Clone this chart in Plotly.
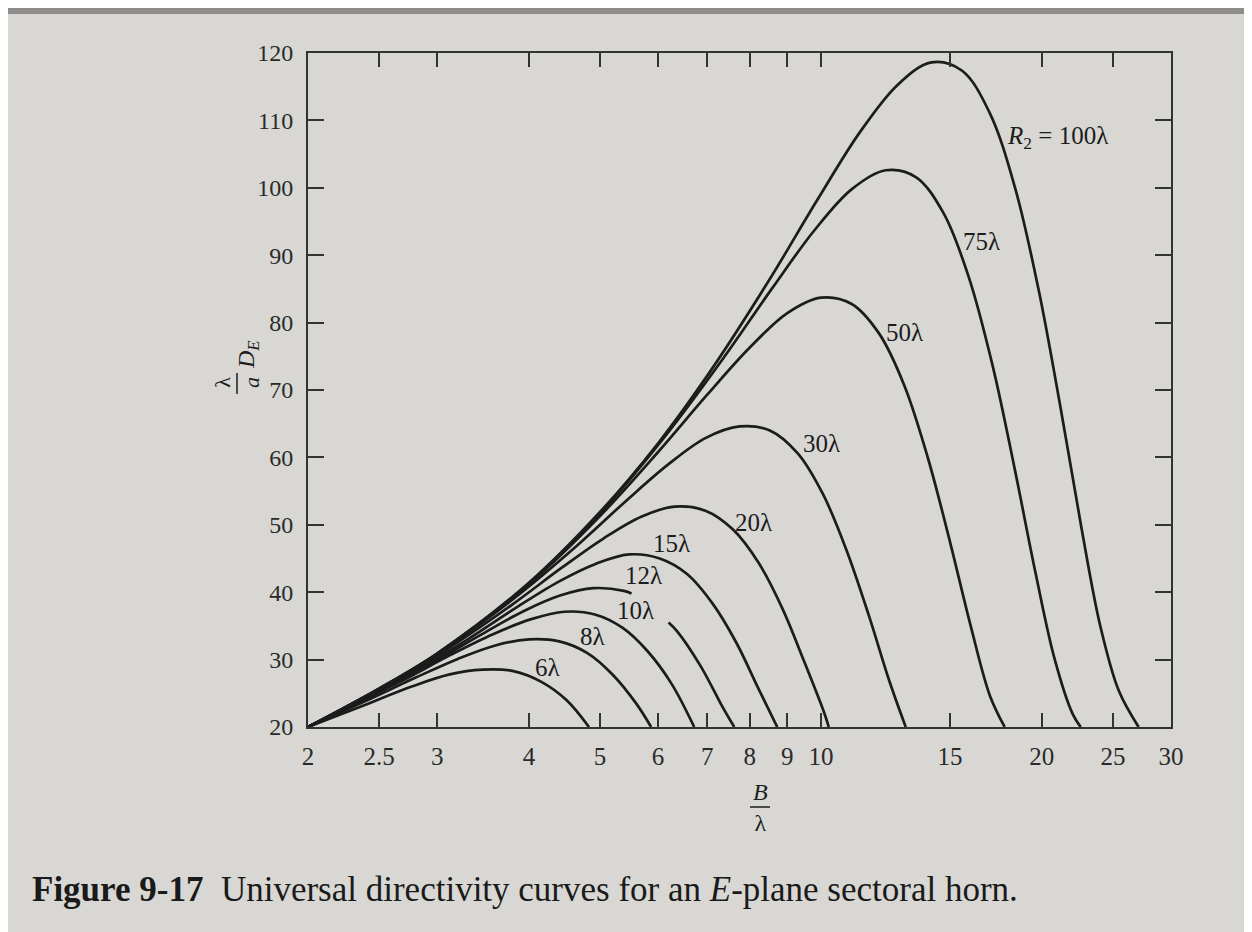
import math
import plotly.graph_objects as go

# ---- data (B/lambda, (lambda/a) D_E) ----
R6_B = [2.0, 2.42, 2.77, 3.12, 3.46, 3.81, 4.16, 4.50, 4.83]
R6_D = [20.0, 23.5, 26.0, 27.8, 28.5, 28.3, 26.7, 24.0, 20.0]

R8_B = [2.0, 2.4, 2.8, 3.2, 3.6, 4.0, 4.4, 4.8, 5.2, 5.6, 5.87]
R8_D = [20.0, 23.9, 27.3, 30.1, 32.1, 33.0, 32.7, 31.0, 27.8, 23.5, 20.0]

R10_B = [2.0, 2.24, 2.68, 3.13, 3.58, 4.03, 4.47, 4.92, 5.37, 5.81, 6.26, 6.72]
R10_D = [20.0, 22.6, 26.8, 30.7, 33.8, 36.0, 37.1, 36.7, 34.7, 31.2, 26.4, 20.0]

R12_B = [2.0, 2.45, 2.94, 3.43, 3.92, 4.41, 4.90, 5.39, 5.52, None, 6.20, 6.37, 6.86, 7.35, 7.62]
R12_D = [20.0, 24.8, 29.4, 33.6, 37.1, 39.5, 40.6, 40.2, 39.8, None, 35.5, 34.2, 29.0, 22.9, 20.0]

R15_B = [2.0, 2.5, 2.74, 3.29, 3.83, 4.38, 4.93, 5.48, 6.03, 6.57, 7.12, 7.67, 8.22, 8.72]
R15_D = [20.0, 25.4, 27.8, 32.9, 37.6, 41.5, 44.2, 45.6, 45.0, 42.7, 38.3, 32.5, 25.7, 20.0]

R20_B = [2.0, 2.5, 3.16, 3.80, 4.43, 5.06, 5.69, 6.32, 6.96, 7.59, 8.22, 8.86, 9.49, 10.12, 10.25]
R20_D = [20.0, 25.5, 32.2, 38.2, 43.6, 48.0, 51.2, 52.7, 52.1, 49.3, 44.4, 37.6, 29.7, 21.9, 20.0]

R30_B = [2.0, 2.5, 3.0, 3.87, 4.65, 5.42, 6.20, 6.97, 7.75, 8.52, 9.30, 10.07, 10.84, 11.62, 12.39, 13.05]
R30_D = [20.0, 25.6, 30.8, 39.6, 46.9, 53.5, 59.0, 62.9, 64.6, 64.0, 60.6, 54.5, 46.2, 36.6, 26.9, 20.0]

R50_B = [2.0, 2.5, 3.0, 4.0, 5.0, 6.0, 7.0, 8.0, 9.0, 10.0, 11.0, 12.0, 13.0, 14.0, 15.0, 16.0, 17.0, 17.8]
R50_D = [20.0, 25.7, 30.9, 41.2, 51.3, 60.8, 69.3, 76.3, 81.4, 83.7, 82.8, 78.4, 70.6, 59.8, 47.4, 35.0, 24.6, 20.0]

R75_B = [2.0, 2.5, 3.0, 4.0, 5.0, 6.12, 7.35, 8.57, 9.80, 11.02, 12.25, 13.47, 14.70, 15.92, 17.15, 18.37, 19.60, 20.82, 22.04, 22.6]
R75_D = [20.0, 25.7, 30.9, 41.3, 51.7, 63.0, 74.6, 85.0, 93.7, 99.8, 102.6, 101.6, 96.2, 86.6, 73.5, 58.3, 43.0, 30.1, 21.9, 20.0]

R100_B = [2.0, 2.5, 3.0, 4.0, 5.0, 6.0, 7.07, 8.49, 9.90, 11.31, 12.73, 14.14, 15.56, 16.97, 18.38, 19.80, 21.21, 22.63, 24.04, 25.46, 27.1]
R100_D = [20.0, 25.7, 30.9, 41.4, 51.9, 62.1, 72.8, 86.2, 98.3, 108.3, 115.3, 118.6, 117.4, 111.2, 100.1, 84.9, 67.4, 49.8, 34.9, 25.4, 20.0]

series_B = [R6_B, R8_B, R10_B, R12_B, R15_B, R20_B, R30_B, R50_B, R75_B, R100_B]
series_D = [R6_D, R8_D, R10_D, R12_D, R15_D, R20_D, R30_D, R50_D, R75_D, R100_D]
series_names = ["6λ", "8λ", "10λ", "12λ", "15λ", "20λ", "30λ", "50λ", "75λ", "100λ"]

# curve labels
label_text = ["<i>R</i><sub>2</sub> = 100λ", "75λ", "50λ", "30λ", "20λ", "15λ", "12λ", "10λ", "8λ", "6λ"]
label_x = [17.8, 15.5, 12.2, 9.4, 7.6, 6.26, 5.73, 5.59, 4.88, 4.24]
label_y = [107.5, 92.0, 78.5, 62.0, 50.3, 47.3, 42.5, 37.3, 33.4, 28.8]
label_anchor = ["left", "left", "left", "left", "left", "center", "center", "center", "center", "center"]

x_tickvals = [2, 2.5, 3, 4, 5, 6, 7, 8, 9, 10, 15, 20, 25, 30]
x_ticktext = ["2", "2.5", "3", "4", "5", "6", "7", "8", "9", "10", "15", "20", "25", "30"]
y_tickvals = [20, 30, 40, 50, 60, 70, 80, 90, 100, 110, 120]

caption = "<b>Figure 9-17</b>  Universal directivity curves for an <i>E</i>-plane sectoral horn."

# ---- figure ----
W, H = 1252, 932
L, R, T, B = 300, 1163, 45, 719
PAPER = "#d8d7d4"
INK = "#1c1c1c"
SERIF = "Liberation Serif, Times New Roman, serif"


def px(xp):
    return (xp - L) / (R - L)


def py(yp):
    return (B - yp) / (B - T)


fig = go.Figure()
for bx, dy, nm in zip(series_B, series_D, series_names):
    fig.add_trace(go.Scatter(
        x=bx, y=dy, mode="lines", name=nm,
        line=dict(color=INK, width=2.7, shape="spline", smoothing=1.0),
        connectgaps=False, showlegend=False, hoverinfo="skip"))

annotations = []
for t, lx, ly, anc in zip(label_text, label_x, label_y, label_anchor):
    annotations.append(dict(x=math.log10(lx), y=ly, xref="x", yref="y", text=t,
                            showarrow=False, xanchor=anc, yanchor="middle",
                            font=dict(family=SERIF, size=25, color=INK)))

annotations += [
    # y-axis title: lambda over a, then D_E (rotated)
    dict(x=px(229), y=py(375), xref="paper", yref="paper", text="λ<br><i>a</i>",
         showarrow=False, textangle=-90, xanchor="center", yanchor="middle",
         font=dict(family=SERIF, size=22, color=INK)),
    dict(x=px(240), y=py(347), xref="paper", yref="paper", text="<i>D</i><sub><i>E</i></sub>",
         showarrow=False, textangle=-90, xanchor="center", yanchor="middle",
         font=dict(family=SERIF, size=24, color=INK)),
    # x-axis title B over lambda
    dict(x=px(752), y=py(799), xref="paper", yref="paper", text="<i>B</i><br>λ",
         showarrow=False, xanchor="center", yanchor="middle",
         font=dict(family=SERIF, size=24, color=INK)),
    # caption
    dict(x=px(22), y=py(881), xref="paper", yref="paper", text=caption, showarrow=False,
         xanchor="left", yanchor="middle", font=dict(family=SERIF, size=35, color="#1a1a1a")),
]

shapes = [
    dict(type="line", xref="paper", yref="paper", x0=px(229), x1=px(229), y0=py(365), y1=py(386),
         line=dict(color=INK, width=1.5)),
    dict(type="line", xref="paper", yref="paper", x0=px(742), x1=px(762), y0=py(799), y1=py(799),
         line=dict(color=INK, width=1.5)),
    dict(type="rect", xref="paper", yref="paper", x0=px(0), x1=px(W), y0=py(0), y1=py(6),
         line=dict(width=0), fillcolor="#8e8d8b", layer="below"),
]

fig.update_layout(
    width=W, height=H,
    margin=dict(l=L, r=W - R, t=T, b=H - B),
    paper_bgcolor=PAPER, plot_bgcolor=PAPER,
    annotations=annotations, shapes=shapes,
    showlegend=False,
)
fig.update_xaxes(
    type="log", range=[math.log10(2), math.log10(30)],
    tickvals=x_tickvals, ticktext=x_ticktext,
    ticks="inside", ticklen=14, tickwidth=1.8, tickcolor="#333",
    showline=True, linewidth=2, linecolor="#333", mirror="ticks",
    showgrid=False, zeroline=False, ticklabelstandoff=6,
    tickfont=dict(family=SERIF, size=25, color="#2a2a2a"),
)
fig.update_yaxes(
    range=[20, 120], tickvals=y_tickvals,
    ticks="inside", ticklen=16, tickwidth=1.8, tickcolor="#333",
    showline=True, linewidth=2, linecolor="#333", mirror="ticks",
    showgrid=False, zeroline=False, ticklabelstandoff=8,
    tickfont=dict(family=SERIF, size=24, color="#2a2a2a"),
)

fig.write_html("out.html")
